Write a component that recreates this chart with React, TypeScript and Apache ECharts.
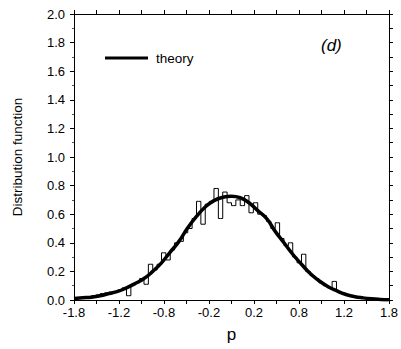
import React, { useEffect, useRef } from "react";
import * as echarts from "echarts";

// Histogram (bin width 0.05 from -1.8 to 1.8)
const histStart = -1.8;
const histBinWidth = 0.05;
const histValues = [
  0.01, 0.015, 0.02, 0.02, 0.03, 0.035, 0.045, 0.05, 0.055, 0.06,
  0.07, 0.085, 0.03, 0.11, 0.12, 0.15, 0.11, 0.25, 0.21, 0.25,
  0.33, 0.28, 0.35, 0.4, 0.41, 0.47, 0.5, 0.57, 0.69, 0.53,
  0.67, 0.69, 0.78, 0.57, 0.755, 0.68, 0.66, 0.7, 0.66, 0.73,
  0.61, 0.68, 0.6, 0.59, 0.55, 0.5, 0.54, 0.43, 0.38, 0.4,
  0.3, 0.26, 0.32, 0.2, 0.17, 0.15, 0.12, 0.1, 0.085, 0.13,
  0.06, 0.047, 0.036, 0.03, 0.022, 0.016, 0.012, 0.01, 0.006, 0.004,
  0.003, 0.002,
];

// Theory curve, sampled every 0.1 from -1.8 to 1.8
const theoryP = [
  -1.8, -1.7, -1.6, -1.5, -1.4, -1.3, -1.2, -1.1, -1.0, -0.9,
  -0.8, -0.7, -0.6, -0.5, -0.4, -0.3, -0.2, -0.1, 0.0, 0.1,
  0.2, 0.3, 0.4, 0.5, 0.6, 0.7, 0.8, 0.9, 1.0, 1.1,
  1.2, 1.3, 1.4, 1.5, 1.6, 1.7, 1.8,
];
const theoryValues = [
  0.01, 0.015, 0.02, 0.03, 0.045, 0.06, 0.085, 0.115, 0.15, 0.2,
  0.26, 0.335, 0.41, 0.505, 0.585, 0.65, 0.695, 0.718, 0.725, 0.715,
  0.68, 0.625, 0.57, 0.48, 0.4, 0.32, 0.25, 0.185, 0.135, 0.095,
  0.065, 0.04, 0.025, 0.015, 0.008, 0.004, 0.002,
];

const xTickLabels = ["-1.8", "-1.2", "-0.8", "-0.2", "0.2", "0.8", "1.2", "1.8"];
const xMin = -1.8;
const xMax = 1.8;

const FONT = "Liberation Sans, Arial, sans-serif";

const r6 = (v: number) => Math.round(v * 1e6) / 1e6;

export default function App() {
  const ref = useRef<HTMLDivElement>(null);
  useEffect(() => {
    if (!ref.current) return;
    const chart = echarts.init(ref.current, undefined, { renderer: "svg" });
    const majorStep = (xMax - xMin) / (xTickLabels.length - 1);
    const majorTicks = xTickLabels.map((_, i) => r6(xMin + i * majorStep));
    const allTicks: number[] = [];
    for (let i = 0; i <= (xTickLabels.length - 1) * 2; i++) allTicks.push(r6(xMin + (i * majorStep) / 2));
    const rightTicks: number[] = [];
    for (let i = 0; i <= 20; i++) rightTicks.push(r6(i / 10));

    const histData = histValues.map((v, i) => [r6(histStart + (i + 0.5) * histBinWidth), v]);
    const theoryData = theoryValues.map((v, i) => [theoryP[i], v]);

    const axisLine = { show: true, onZero: false, lineStyle: { color: "#000", width: 1 } };

    chart.setOption({
      animation: false,
      backgroundColor: "#fff",
      grid: { left: 74, right: 9, top: 14, bottom: 49 },
      legend: {
        data: [{ name: "theory", icon: "rect" }],
        left: 100,
        top: 46,
        itemWidth: 43,
        itemHeight: 3,
        textStyle: { color: "#000", fontSize: 13.5, fontFamily: FONT, padding: [0, 0, 0, 3] },
        selectedMode: false,
      },
      graphic: [
        {
          type: "text",
          left: 321,
          top: 37,
          style: { text: "(d)", fontSize: 17, fontStyle: "italic", fontFamily: FONT, fill: "#000" },
        },
      ],
      xAxis: [
        {
          type: "value",
          position: "bottom",
          min: xMin,
          max: xMax,
          axisLine,
          splitLine: { show: false },
          axisTick: { show: true, customValues: allTicks, length: 4, lineStyle: { color: "#000" } },
          axisLabel: {
            customValues: majorTicks,
            showMinLabel: true,
            showMaxLabel: true,
            color: "#000",
            fontSize: 13,
            fontFamily: FONT,
            margin: 6,
            formatter: (v: number) => {
              const idx = Math.round((v - xMin) / majorStep);
              return xTickLabels[idx] ?? "";
            },
          },
          name: "p",
          nameLocation: "middle",
          nameGap: 26,
          nameTextStyle: { color: "#000", fontSize: 17, fontFamily: FONT },
        },
        {
          type: "value",
          position: "top",
          min: xMin,
          max: xMax,
          axisLine,
          splitLine: { show: false },
          axisTick: { show: true, customValues: allTicks, length: 4, lineStyle: { color: "#000" } },
          axisLabel: { show: false },
        },
      ],
      yAxis: [
        {
          type: "value",
          position: "left",
          min: 0,
          max: 2,
          interval: 0.2,
          axisLine,
          splitLine: { show: false },
          axisTick: { show: true, length: 4, lineStyle: { color: "#000" } },
          minorTick: { show: true, splitNumber: 2, length: 2, lineStyle: { color: "#555" } },
          axisLabel: {
            color: "#000",
            fontSize: 13,
            fontFamily: FONT,
            margin: 9,
            formatter: (v: number) => v.toFixed(1),
          },
          name: "Distribution function",
          nameLocation: "middle",
          nameGap: 50,
          nameTextStyle: { color: "#000", fontSize: 13.5, fontFamily: FONT },
        },
        {
          type: "value",
          position: "right",
          min: 0,
          max: 2,
          axisLine,
          splitLine: { show: false },
          axisTick: { show: true, customValues: rightTicks, length: 4, lineStyle: { color: "#000" } },
          axisLabel: { show: false },
        },
      ],
      series: [
        {
          type: "line",
          name: "histogram",
          data: histData,
          step: "middle",
          showSymbol: false,
          symbol: "none",
          lineStyle: { color: "#000", width: 1 },
          itemStyle: { color: "#000" },
          z: 2,
        },
        {
          type: "line",
          name: "theory",
          data: theoryData,
          smooth: true,
          showSymbol: false,
          symbol: "none",
          lineStyle: { color: "#000", width: 3.5 },
          itemStyle: { color: "#000" },
          z: 3,
        },
      ],
    });
    return () => chart.dispose();
  }, []);
  return (
    <div
      ref={ref}
      style={{ position: "fixed", left: 0, top: 0, width: 401, height: 349, background: "#fff" }}
    />
  );
}
